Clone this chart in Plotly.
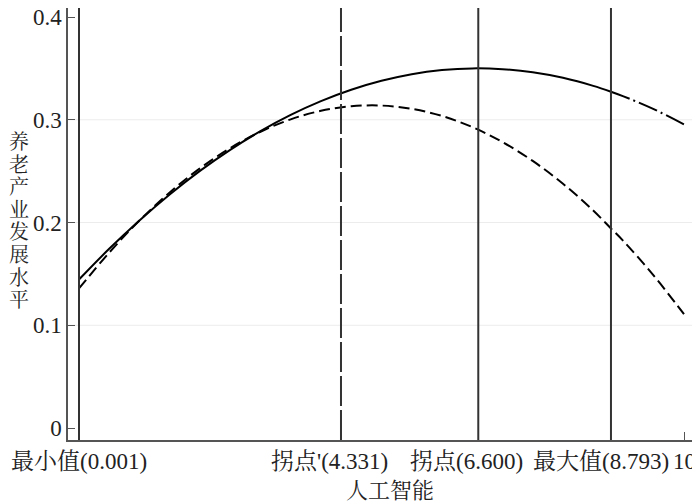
import plotly.graph_objects as go

# ---- data ----
x_vals = [0.001, 0.5, 1.0, 1.5, 2.0, 2.5, 3.0, 3.5, 4.0, 4.5, 5.0, 5.5, 6.0, 6.5,
          7.0, 7.5, 8.0, 8.5, 8.793, 9.0, 9.5, 10.0]
solid_y = [0.1445, 0.1744, 0.2020, 0.2273, 0.2502, 0.2707, 0.2889, 0.3047, 0.3181,
           0.3292, 0.3379, 0.3443, 0.3483, 0.3500, 0.3492, 0.3462, 0.3408, 0.3330,
           0.3273, 0.3228, 0.3103, 0.2955]
dashed_y = [0.1358, 0.1707, 0.2019, 0.2292, 0.2527, 0.2724, 0.2883, 0.3004, 0.3087,
            0.3131, 0.3138, 0.3106, 0.3037, 0.2929, 0.2783, 0.2599, 0.2377, 0.2117,
            0.1942, 0.1819, 0.1483, 0.1108]

x_min_val = 0.001
turn_prime = 4.331
turn_point = 6.600
x_max_val = 8.793
x_tick_vals = [0.001, 4.331, 6.600, 8.793, 10]
x_tick_text = ["最小值(0.001)", "拐点'(4.331)", "拐点(6.600)", "最大值(8.793)", "10"]
y_tick_vals = [0, 0.1, 0.2, 0.3, 0.4]
y_tick_text = ["0", "0.1", "0.2", "0.3", "0.4"]
grid_vals = [0.1, 0.2, 0.3]
y_title = "养老产业发展水平"
x_title = "人工智能"

FONT = "Liberation Serif, Noto Serif CJK SC, Noto Sans CJK SC, serif"
label_shift = [0, -11, -12, -10, 0]   # horizontal nudges of the x labels (style)

solid_x_in = [x for x in x_vals if x <= x_max_val]
solid_y_in = [y for x, y in zip(x_vals, solid_y) if x <= x_max_val]
solid_x_out = [x for x in x_vals if x >= x_max_val]
solid_y_out = [y for x, y in zip(x_vals, solid_y) if x >= x_max_val]

# page body adds an 8px offset; layout compensates
OFF = 8
L, R, T, B = 68 - OFF, 11, 0, 72
PW = 700 - L - R
PH = 504 - T - B


def px_to_paper_x(px):
    return (px - OFF - L) / PW


def py_to_paper_y(py):
    return 1 - (py - OFF - T) / PH


fig = go.Figure()

fig.add_trace(go.Scatter(x=x_vals, y=dashed_y, mode="lines",
                         line=dict(color="black", width=2, dash="11px,5px", shape="spline"),
                         showlegend=False))
fig.add_trace(go.Scatter(x=solid_x_in, y=solid_y_in, mode="lines",
                         line=dict(color="black", width=2, shape="spline"),
                         showlegend=False))
fig.add_trace(go.Scatter(x=solid_x_out, y=solid_y_out, mode="lines",
                         line=dict(color="black", width=2, dash="20px,4px,2px,4px", shape="spline"),
                         showlegend=False))

for g in grid_vals:
    fig.add_shape(type="line", xref="paper", x0=0, x1=1, yref="y", y0=g, y1=g,
                  line=dict(color="#ececec", width=1), layer="below")

for xv, dsh in [(x_min_val, "solid"), (turn_prime, "30px,4px"), (turn_point, "solid"), (x_max_val, "solid")]:
    fig.add_shape(type="line", xref="x", x0=xv, x1=xv, yref="paper", y0=0, y1=1,
                  line=dict(color="#333333", width=2, dash=dsh), layer="above")

# x tick labels as annotations anchored at the tick values
for xv, txt, sh in zip(x_tick_vals, x_tick_text, label_shift):
    fig.add_annotation(text=txt, xref="x", yref="paper", x=xv, y=py_to_paper_y(462),
                       xanchor="center", yanchor="middle", xshift=sh, showarrow=False,
                       font=dict(family=FONT, size=23, color="#222"))

for i, ch in enumerate(y_title):
    py = 142 + i * 22.6
    fig.add_annotation(text=ch, xref="paper", yref="paper",
                       x=px_to_paper_x(19), y=py_to_paper_y(py),
                       xanchor="center", yanchor="middle", showarrow=False,
                       font=dict(family=FONT, size=20, color="#222"))

fig.add_annotation(text=x_title, xref="paper", yref="paper",
                   x=px_to_paper_x(390), y=py_to_paper_y(490),
                   xanchor="center", yanchor="middle", showarrow=False,
                   font=dict(family=FONT, size=22, color="#222"))

fig.update_layout(
    width=700, height=504,
    margin=dict(l=L, r=R, t=T, b=B, autoexpand=False),
    paper_bgcolor="white", plot_bgcolor="white",
    font=dict(family=FONT, size=23, color="#222"),
    xaxis=dict(range=[-0.1808, 10.2149], tickmode="array", tickvals=x_tick_vals,
               showticklabels=False, ticks="inside", ticklen=8, tickcolor="#555",
               showgrid=False, zeroline=False, showline=True, linecolor="#555",
               linewidth=1.5, automargin=False),
    yaxis=dict(range=[-0.01168, 0.40876], tickmode="array", tickvals=y_tick_vals,
               ticktext=y_tick_text, ticks="inside", ticklen=7, tickcolor="#555",
               showgrid=False, zeroline=False, showline=True, linecolor="#555",
               linewidth=1.5, tickfont=dict(size=23), automargin=False,
               ticklabeloverflow="allow"),
)

fig.write_html("out.html")
